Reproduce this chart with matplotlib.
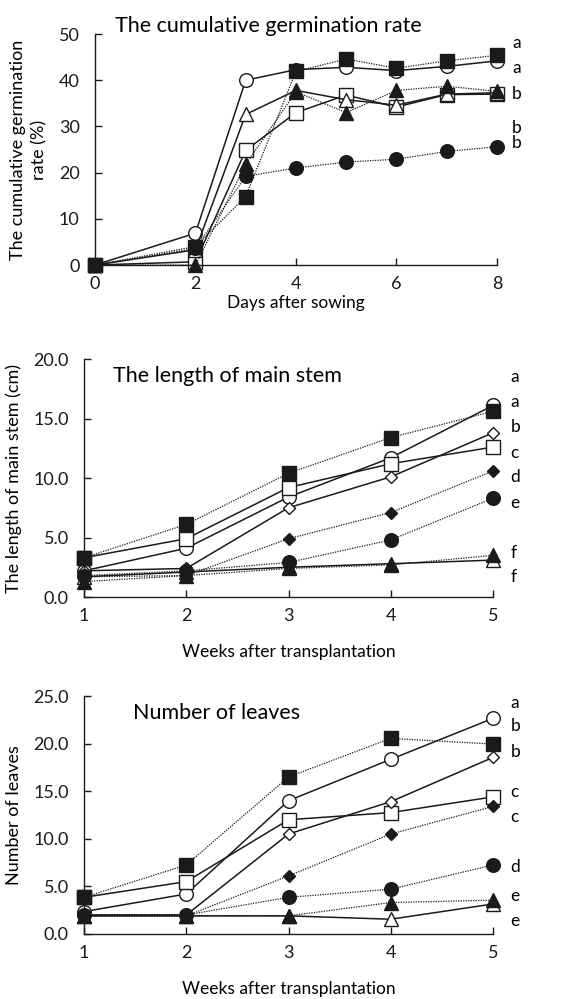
import matplotlib
matplotlib.use('Agg')
import matplotlib.pyplot as plt
from matplotlib.ticker import FormatStrFormatter

plt.rcParams['font.family'] = ['Lato', 'DejaVu Sans']

# Germination (days after sowing)
days = [0, 2, 3, 4, 5, 6, 7, 8]
germ_open_circle = [0, 6.9, 40.0, 42.3, 42.8, 42.1, 43.0, 44.2]
germ_open_square = [0, 0.7, 24.8, 33.0, 36.8, 34.2, 36.9, 37.0]
germ_open_triangle = [0, 3.3, 32.6, 37.8, 35.8, 34.6, 37.0, 37.3]
germ_filled_circle = [0, 3.6, 19.2, 21.0, 22.3, 22.9, 24.6, 25.6]
germ_filled_triangle = [0, 0.0, 21.8, 37.5, 33.0, 37.8, 38.7, 37.6]
germ_filled_square = [0, 4.0, 14.8, 41.9, 44.6, 42.6, 44.2, 45.4]
germ_letters = ['a', 'a', 'b', 'b', 'b']
germ_letter_y = [48.0, 42.6, 37.0, 29.6, 26.4]

# Main stem length (weeks after transplantation)
weeks = [1, 2, 3, 4, 5]
stem_open_circle = [2.2, 4.1, 8.4, 11.7, 16.1]
stem_open_square = [3.3, 4.9, 9.2, 11.2, 12.6]
stem_open_diamond = [2.2, 2.4, 7.5, 10.1, 13.8]
stem_open_triangle = [1.7, 2.1, 2.5, 2.8, 3.1]
stem_filled_circle = [1.8, 2.2, 2.9, 4.8, 8.3]
stem_filled_diamond = [1.7, 1.8, 4.9, 7.1, 10.6]
stem_filled_triangle = [1.3, 1.8, 2.4, 2.7, 3.5]
stem_filled_square = [3.3, 6.1, 10.4, 13.4, 15.6]
stem_letters = ['a', 'a', 'b', 'c', 'd', 'e', 'f', 'f']
stem_letter_y = [18.5, 16.4, 14.3, 12.1, 10.1, 7.9, 3.7, 1.7]

# Number of leaves
leaf_open_circle = [2.35, 4.2, 14.0, 18.35, 22.65]
leaf_open_square = [3.85, 5.5, 12.0, 12.75, 14.4]
leaf_open_diamond = [2.0, 2.0, 10.5, 13.9, 18.55]
leaf_open_triangle = [1.9, 1.9, 1.9, 1.55, 3.15]
leaf_filled_circle = [2.0, 2.0, 3.85, 4.7, 7.25]
leaf_filled_diamond = [1.9, 1.9, 6.1, 10.5, 13.4]
leaf_filled_triangle = [1.9, 1.9, 1.9, 3.3, 3.55]
leaf_filled_square = [3.85, 7.25, 16.5, 20.55, 19.95]
leaf_letters = ['a', 'b', 'b', 'c', 'c', 'd', 'e', 'e']
leaf_letter_y = [24.3, 21.8, 19.15, 14.95, 12.3, 7.05, 4.0, 1.4]

# marker style per series type
styles = {
    'open_circle': dict(marker='o', ms=9.8, mfc='white', ls='-'),
    'open_square': dict(marker='s', ms=9.5, mfc='white', ls='-'),
    'open_diamond': dict(marker='D', ms=6.5, mfc='white', ls='-'),
    'open_triangle': dict(marker='^', ms=10, mfc='white', ls='-'),
    'filled_circle': dict(marker='o', ms=9.8, mfc='#1a1a1a', ls=(0, (1, 1))),
    'filled_diamond': dict(marker='D', ms=6.5, mfc='#1a1a1a', ls=(0, (1, 1))),
    'filled_triangle': dict(marker='^', ms=10, mfc='#1a1a1a', ls=(0, (1, 1))),
    'filled_square': dict(marker='s', ms=9.5, mfc='#1a1a1a', ls=(0, (1, 1))),
}


def draw(ax, x, series):
    for key, y in series:
        st = styles[key]
        lw = 1.1 if st['ls'] == '-' else 0.9
        ax.plot(x, y, color='#1a1a1a', lw=lw, ls=st['ls'], marker=st['marker'],
                ms=st['ms'], mfc=st['mfc'], mec='#1a1a1a', mew=1.0, clip_on=False)


def style_axes(ax):
    for s in ['top', 'right']:
        ax.spines[s].set_visible(False)
    for s in ['left', 'bottom']:
        ax.spines[s].set_linewidth(1.0)
        ax.spines[s].set_color('#1a1a1a')
    ax.tick_params(direction='in', length=5, width=1.0, labelsize=13,
                   colors='#1a1a1a', pad=8)
    ax.tick_params(axis='y', pad=11)


fig = plt.figure(figsize=(5.65, 9.99), dpi=100)

# Panel 1
ax1 = fig.add_axes([0.168, 0.7347, 0.7115, 0.2312])
draw(ax1, days, [('open_circle', germ_open_circle), ('open_square', germ_open_square),
                 ('open_triangle', germ_open_triangle), ('filled_circle', germ_filled_circle),
                 ('filled_triangle', germ_filled_triangle), ('filled_square', germ_filled_square)])
ax1.set_xlim(0, 8)
ax1.set_ylim(0, 50)
ax1.set_xticks([0, 2, 4, 6, 8])
ax1.set_yticks([0, 10, 20, 30, 40, 50])
style_axes(ax1)
ax1.set_xlabel('Days after sowing', fontsize=12.5, labelpad=2)
ax1.set_ylabel('The cumulative germination\nrate (%)', fontsize=13, labelpad=8,
               linespacing=1.45)
for t, y in zip(germ_letters, germ_letter_y):
    ax1.text(8.3, y, t, fontsize=12.5, va='center', ha='left', clip_on=False)
fig.text(0.204, 0.974, 'The cumulative germination rate', fontsize=15.5, va='center', ha='left')

# Panel 2
ax2 = fig.add_axes([0.1487, 0.4024, 0.7239, 0.2382])
draw(ax2, weeks, [('open_circle', stem_open_circle), ('open_square', stem_open_square),
                  ('open_diamond', stem_open_diamond), ('open_triangle', stem_open_triangle),
                  ('filled_circle', stem_filled_circle), ('filled_diamond', stem_filled_diamond),
                  ('filled_triangle', stem_filled_triangle), ('filled_square', stem_filled_square)])
ax2.set_xlim(1, 5)
ax2.set_ylim(0, 20)
ax2.set_xticks(weeks)
ax2.set_yticks([0, 5, 10, 15, 20])
ax2.yaxis.set_major_formatter(FormatStrFormatter('%.1f'))
style_axes(ax2)
ax2.set_xlabel('Weeks after transplantation', fontsize=12.5, labelpad=14)
ax2.set_ylabel('The length of main stem (cm)', fontsize=13, labelpad=8)
for t, y in zip(stem_letters, stem_letter_y):
    ax2.text(5.17, y, t, fontsize=12.5, va='center', ha='left', clip_on=False)
fig.text(0.2, 0.624, 'The length of main stem', fontsize=15.5, va='center', ha='left')

# Panel 3
ax3 = fig.add_axes([0.1487, 0.0651, 0.7239, 0.2382])
draw(ax3, weeks, [('open_circle', leaf_open_circle), ('open_square', leaf_open_square),
                  ('open_diamond', leaf_open_diamond), ('open_triangle', leaf_open_triangle),
                  ('filled_circle', leaf_filled_circle), ('filled_diamond', leaf_filled_diamond),
                  ('filled_triangle', leaf_filled_triangle), ('filled_square', leaf_filled_square)])
ax3.set_xlim(1, 5)
ax3.set_ylim(0, 25)
ax3.set_xticks(weeks)
ax3.set_yticks([0, 5, 10, 15, 20, 25])
ax3.yaxis.set_major_formatter(FormatStrFormatter('%.1f'))
style_axes(ax3)
ax3.set_xlabel('Weeks after transplantation', fontsize=12.5, labelpad=14)
ax3.set_ylabel('Number of leaves', fontsize=13, labelpad=8)
for t, y in zip(leaf_letters, leaf_letter_y):
    ax3.text(5.17, y, t, fontsize=12.5, va='center', ha='left', clip_on=False)
fig.text(0.235, 0.286, 'Number of leaves', fontsize=15.5, va='center', ha='left')

fig.savefig('out.png', dpi=100)
